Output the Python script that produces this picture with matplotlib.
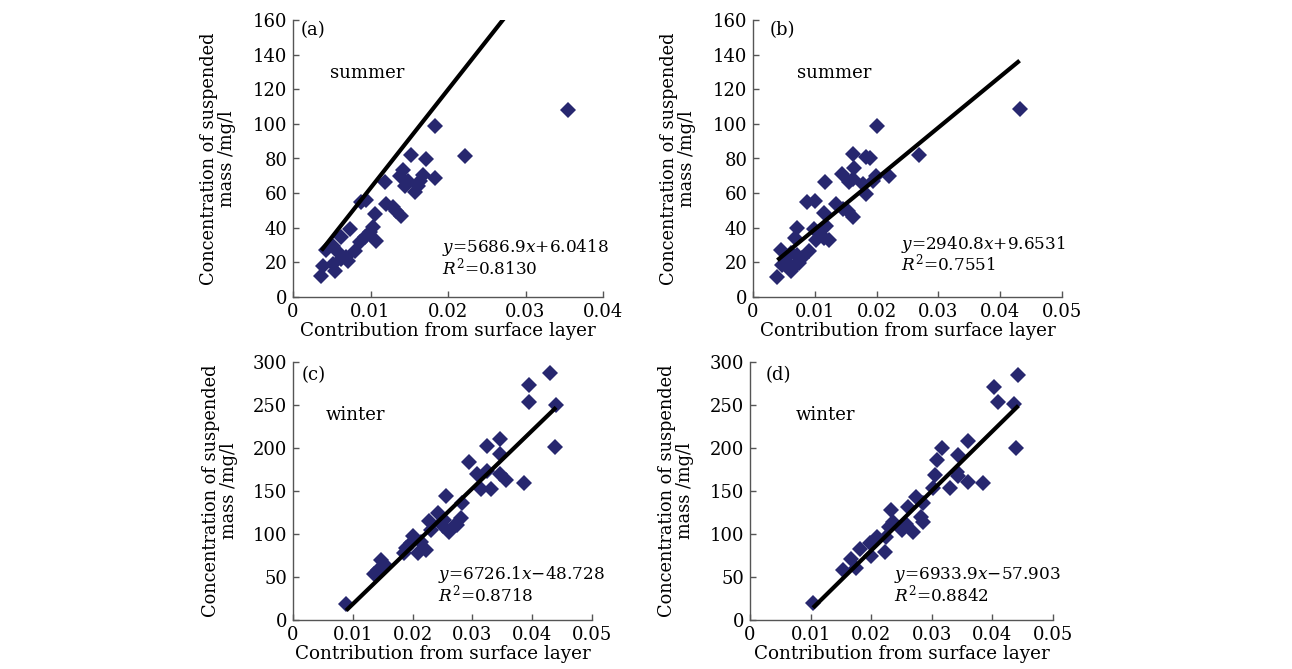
import numpy as np
import matplotlib.pyplot as plt

plt.rcParams['font.family'] = 'DejaVu Serif'
plt.rcParams['mathtext.fontset'] = 'custom'
plt.rcParams['mathtext.rm'] = 'DejaVu Serif'
plt.rcParams['mathtext.it'] = 'DejaVu Serif:italic'

# summer, model (a)
xa = [0.03548, 0.01837, 0.02215, 0.01518, 0.0172, 0.01828, 0.01419, 0.01376, 0.01484, 0.01441,
      0.0157, 0.01634, 0.01677, 0.01613, 0.01183, 0.00946, 0.00882, 0.01054, 0.01204, 0.0129,
      0.01333, 0.01398, 0.01032, 0.00989, 0.00925, 0.01075, 0.0086, 0.00731, 0.00624, 0.00516,
      0.0043, 0.00581, 0.00688, 0.00796, 0.00516, 0.00387, 0.00366, 0.00538, 0.0071, 0.00624]
ya = [107.9, 98.8, 81.2, 82.1, 79.6, 69.0, 73.3, 70.0, 67.1, 64.2,
      60.4, 67.1, 70.6, 64.2, 66.2, 56.2, 54.6, 47.9, 53.7, 51.7,
      49.8, 46.9, 40.2, 37.3, 34.4, 32.5, 31.5, 39.2, 34.4, 29.6,
      27.1, 25.8, 22.9, 26.7, 19.0, 18.1, 12.3, 15.2, 21.0, 21.9]

# summer, model (b)
xb = [0.04314, 0.02005, 0.02692, 0.01611, 0.01827, 0.01892, 0.01638, 0.01438, 0.02205, 0.01989,
      0.01935, 0.01557, 0.01622, 0.01773, 0.01827, 0.01168, 0.00881, 0.01005, 0.01151, 0.01341,
      0.01449, 0.0153, 0.01611, 0.00719, 0.00681, 0.00989, 0.01178, 0.01097, 0.01016, 0.01232,
      0.01151, 0.00908, 0.008, 0.00719, 0.00611, 0.00449, 0.00476, 0.00611, 0.00395, 0.0053,
      0.00746, 0.00665]
yb = [108.5, 98.8, 82.3, 82.7, 80.8, 80.4, 74.4, 71.1, 70.1, 70.1,
      67.2, 66.2, 68.2, 65.2, 59.4, 66.6, 54.6, 55.5, 48.7, 53.6,
      50.7, 49.7, 46.4, 40.0, 34.2, 39.0, 41.0, 36.1, 33.2, 33.2,
      34.2, 26.4, 22.5, 24.5, 25.4, 27.4, 18.6, 14.8, 11.8, 20.6,
      19.6, 17.7]

# winter, model (c)
xc = [0.04306, 0.03944, 0.03944, 0.0440, 0.04378, 0.03461, 0.03239, 0.03461, 0.02944, 0.03083,
      0.0325, 0.03306, 0.03139, 0.03461, 0.03556, 0.03861, 0.02556, 0.02833, 0.02417, 0.02278,
      0.02528, 0.02611, 0.0275, 0.02806, 0.02694, 0.025, 0.02, 0.02139, 0.01889, 0.01861,
      0.02083, 0.02222, 0.01972, 0.02306, 0.01472, 0.01556, 0.01417, 0.01361, 0.00889]
yc = [287.3, 272.7, 253.9, 250.0, 201.0, 210.8, 202.2, 193.1, 184.1, 169.6,
      173.5, 152.0, 152.0, 169.6, 162.9, 159.8, 144.1, 136.3, 124.5, 114.7,
      116.7, 102.9, 110.8, 118.6, 108.8, 108.8, 97.1, 91.2, 83.3, 77.5,
      77.5, 81.4, 89.2, 104.9, 69.6, 62.5, 57.8, 53.9, 18.6]

# winter, model (d)
xd = [0.0443, 0.0403, 0.041, 0.0436, 0.0439, 0.036, 0.0317, 0.0344, 0.0308, 0.0305,
      0.0341, 0.0344, 0.036, 0.0385, 0.033, 0.0302, 0.0274, 0.0286, 0.0261, 0.0232,
      0.0283, 0.0286, 0.0236, 0.0258, 0.0269, 0.023, 0.025, 0.0225, 0.0209, 0.0203,
      0.0198, 0.0222, 0.020, 0.0181, 0.0167, 0.0175, 0.0153, 0.0104]
yd = [285, 271, 254, 251, 200, 208, 200, 192, 186, 169,
      172, 168, 161, 159, 153, 153, 143, 135.5, 131.7, 128,
      120, 114, 114, 112, 102.5, 108, 104.5, 96.7, 96.7, 91,
      89, 79, 75, 83, 71.5, 60, 58, 20]

# fitted lines y = k*x + b and R^2
slopes = [5686.9, 2940.8, 6726.1, 6933.9]
intercepts = [6.0418, 9.6531, -48.728, -57.903]
r2 = [0.8130, 0.7551, 0.8718, 0.8842]

tags = ['(a)', '(b)', '(c)', '(d)']
seasons = ['summer', 'summer', 'winter', 'winter']
xmax = [0.04, 0.05, 0.05, 0.05]
ymax = [160, 160, 300, 300]
ystep = [20, 20, 50, 50]

xs = [xa, xb, xc, xd]
ys = [ya, yb, yc, yd]

W, H = 1292, 669
fig = plt.figure(figsize=(W / 100, H / 100), dpi=100)

# axes boxes in pixels: left, right, bottom, top
boxes = [(293, 603, 297, 20), (753, 1062, 297, 20),
         (293, 592, 620, 362), (750, 1053, 620, 362)]
season_pos = [(0.12, 0.81), (0.142, 0.81), (0.11, 0.795), (0.152, 0.795)]
tag_pos = [(0.023, 0.965), (0.055, 0.965), (0.03, 0.95), (0.05, 0.95)]
eq_x = [0.48, 0.479, 0.485, 0.475]
eq_y = [(0.18, 0.105), (0.19, 0.12), (0.175, 0.1), (0.175, 0.1)]

for i in range(4):
    l, r, b, t = boxes[i]
    ax = fig.add_axes([l / W, 1 - b / H, (r - l) / W, (b - t) / H])
    x = np.array(xs[i])
    y = np.array(ys[i])
    ax.plot(x, y, linestyle='none', marker='D', markersize=7.8,
            color='#27276f', markeredgewidth=0)
    xl = np.array([x.min(), x.max()])
    ax.plot(xl, slopes[i] * xl + intercepts[i], color='black', lw=3,
            solid_capstyle='butt')

    ax.set_xlim(0, xmax[i])
    ax.set_ylim(0, ymax[i])
    ax.set_xticks(np.arange(0, xmax[i] + 1e-9, 0.01))
    ax.set_xticklabels(['0'] + ['%.2f' % v for v in np.arange(0.01, xmax[i] + 1e-9, 0.01)])
    ax.set_yticks(np.arange(0, ymax[i] + 1, ystep[i]))
    ax.spines['top'].set_visible(False)
    ax.spines['right'].set_visible(False)
    for s in ['left', 'bottom']:
        ax.spines[s].set_color('#555555')
        ax.spines[s].set_linewidth(1.0)
    ax.tick_params(direction='in', length=4, width=1, colors='#555555',
                   labelcolor='black', labelsize=13, pad=4)

    ax.set_xlabel('Contribution from surface layer', fontsize=13.2, labelpad=1)
    ax.set_ylabel('Concentration of suspended\nmass /mg/l', fontsize=12.8,
                  linespacing=1.0)
    ax.yaxis.set_label_coords(-0.185, 0.5)

    ax.text(*tag_pos[i], tags[i], transform=ax.transAxes, fontsize=13,
            ha='left', va='center')
    ax.text(*season_pos[i], seasons[i], transform=ax.transAxes, fontsize=13,
            ha='left', va='center')
    sign = '+' if intercepts[i] >= 0 else '\u2212'
    eq = '$y$=%.1f$x$%s%.6g' % (slopes[i], sign, abs(intercepts[i]))
    ax.text(eq_x[i], eq_y[i][0], eq, transform=ax.transAxes, fontsize=12.2,
            ha='left', va='center')
    ax.text(eq_x[i], eq_y[i][1], '$R^2$=%.4f' % r2[i], transform=ax.transAxes,
            fontsize=12.2, ha='left', va='center')

fig.savefig('out.png', dpi=100)
